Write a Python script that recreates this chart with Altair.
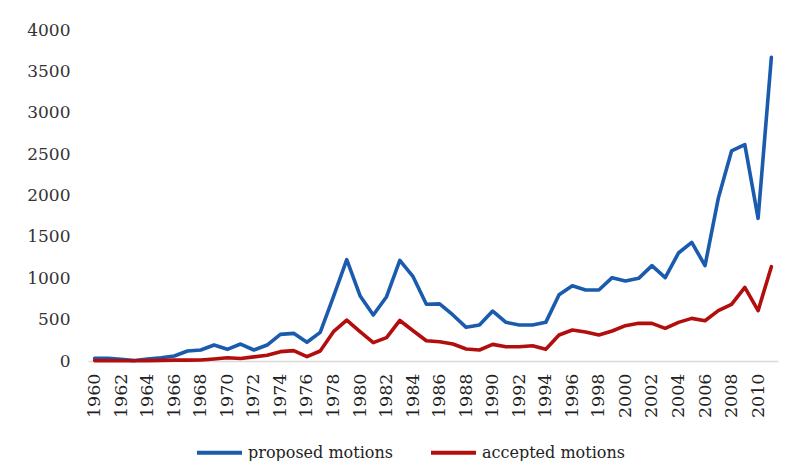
import altair as alt
import pandas as pd

years = list(range(1960, 2012))
proposed = [32, 32, 20, 5, 24, 40, 60, 121, 133, 193, 141, 205, 133, 193, 322, 334, 226, 346, 777, 1225,
            789, 556, 777, 1215, 1019, 685, 690, 556, 407, 435, 604, 467, 435, 435, 467, 801, 910, 858, 858, 1007,
            967, 999, 1152, 1007, 1305, 1434, 1152, 1966, 2538, 2615, 1724, 3670]
accepted = [5, 5, 3, 3, 5, 8, 10, 10, 12, 25, 40, 30, 50, 70, 113, 125, 52, 121, 354, 495,
            354, 222, 282, 490, 366, 245, 233, 205, 145, 133, 201, 173, 173, 185, 141, 314, 375, 350, 314, 363,
            427, 455, 455, 395, 467, 515, 487, 608, 685, 890, 608, 1140]
series_names = ["proposed motions", "accepted motions"]
series_colors = ["#1A5BAE", "#B30E0E"]
y_ticks = [0, 500, 1000, 1500, 2000, 2500, 3000, 3500, 4000]
x_label_years = [y for y in years if y % 2 == 0]

rows = []
for yr, p, a in zip(years, proposed, accepted):
    rows.append({"year": yr, "value": p, "series": series_names[0]})
    rows.append({"year": yr, "value": a, "series": series_names[1]})
df = pd.DataFrame(rows)

FONT = "DejaVu Serif"

chart = alt.Chart(df).mark_line(strokeWidth=3.6, strokeCap="round", strokeJoin="round").encode(
    x=alt.X("year:O", title=None,
            scale=alt.Scale(type="point", padding=0.5),
            axis=alt.Axis(values=x_label_years, labelAngle=-90, labelAlign="right", labelBaseline="middle",
                          ticks=False, domainColor="#d9d9d9", domainWidth=1.5, labelPadding=12,
                          labelFont=FONT, labelFontSize=17.5, labelColor="#222222", grid=False)),
    y=alt.Y("value:Q", title=None,
            scale=alt.Scale(domain=[0, 4000], nice=False),
            axis=alt.Axis(values=y_ticks, format="d", domain=False, ticks=False, grid=False, labelPadding=18,
                          labelFont=FONT, labelFontSize=17, labelColor="#333333")),
    color=alt.Color("series:N", sort=series_names,
                    scale=alt.Scale(domain=series_names, range=series_colors),
                    legend=alt.Legend(title=None, orient="none", direction="horizontal",
                                      legendX=107, legendY=398,
                                      symbolType="stroke", symbolSize=2025, symbolStrokeWidth=4,
                                      labelFont=FONT, labelFontSize=16, labelColor="#222222",
                                      labelOffset=4, columnPadding=30)),
).properties(
    width=690, height=331,
    autosize=alt.AutoSizeParams(type="none"),
    padding={"left": 80, "top": 22, "right": 5, "bottom": 100},
).configure_view(stroke=None)

chart.save("out.html", embed_options={"renderer": "svg", "actions": False})
